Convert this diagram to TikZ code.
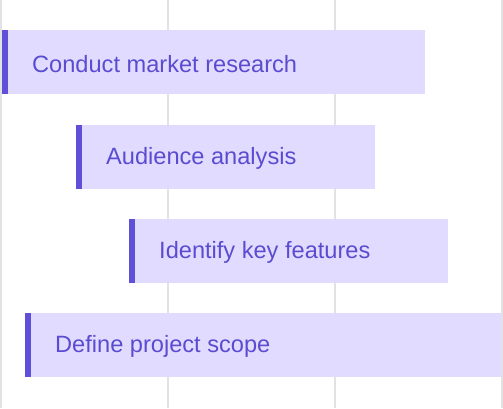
\documentclass[tikz,border=0pt]{standalone}
\usepackage{fontspec}
\setmainfont{Liberation Sans}
\usepackage{tikz}
\usetikzlibrary{positioning}
\definecolor{cBar}{RGB}{225,220,255}
\definecolor{cAccent}{RGB}{96,80,216}
\definecolor{cText}{RGB}{90,76,208}
\definecolor{cGrid}{RGB}{226,226,226}
\tikzset{
	taskbar/.style ={rectangle, fill=cBar, minimum height=64pt, inner sep=0pt, anchor=north west},
	tasktext/.style={text=cText, inner sep=0pt, yshift=-1.5pt, font=\fontsize{23.6}{28}\selectfont},
	accent/.style  ={fill=cAccent},
	gridline/.style={draw=cGrid, line width=1.5pt},
}

\begin{document}
\begin{tikzpicture}[x=1pt, y=-1pt]
	\useasboundingbox (0,0) rectangle (503,408);
	% grid
	\foreach \gx in {1,168,335,502}
		\draw[gridline] (\gx,0) -- (\gx,408);
	% tasks
	\node[taskbar, minimum width=423pt] (research) at (2,30) {};
	\node[taskbar, minimum width=299pt] (audience) at (76,125) {};
	\node[taskbar, minimum width=319pt] (features) at (129,219) {};
	\node[taskbar, minimum width=477pt] (scope) at (25,313) {};
	\foreach \t in {research,audience,features,scope}
		\fill[accent] (\t.north west) rectangle ++(5.5,64);
	\node[tasktext, right=30pt of research.west] (researchlbl) {Conduct market research};
	\node[tasktext, right=30pt of audience.west] (audiencelbl) {Audience analysis};
	\node[tasktext, right=30pt of features.west] (featureslbl) {Identify key features};
	\node[tasktext, right=30pt of scope.west] (scopelbl) {Define project scope};
\end{tikzpicture}
\end{document}
